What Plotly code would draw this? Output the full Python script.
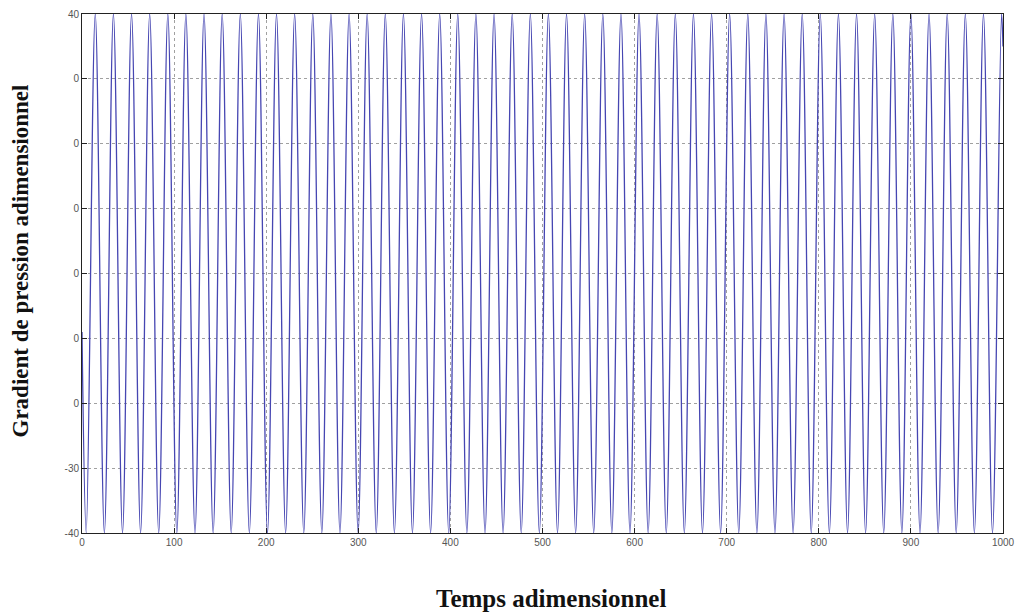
import plotly.graph_objects as go

# Times (adimensional) of troughs (-40) and peaks (+40)
trough_times = [4.6, 24.3, 44.0, 63.6, 83.3, 103.0, 122.7, 142.4, 162.0, 181.7,
                201.4, 221.1, 240.8, 260.4, 280.1, 299.8, 319.5, 339.2, 358.8, 378.5,
                398.2, 417.9, 437.6, 457.2, 476.9, 496.6, 516.3, 536.0, 555.6, 575.3,
                595.0, 614.7, 634.4, 654.0, 673.7, 693.4, 713.1, 732.8, 752.4, 772.1,
                791.8, 811.5, 831.2, 850.8, 870.5, 890.2, 909.9, 929.6, 949.2, 968.9,
                988.6]
peak_times = [14.4, 34.1, 53.8, 73.5, 93.2, 112.8, 132.5, 152.2, 171.9, 191.6,
              211.2, 230.9, 250.6, 270.3, 290.0, 309.6, 329.3, 349.0, 368.7, 388.4,
              408.0, 427.7, 447.4, 467.1, 486.8, 506.4, 526.1, 545.8, 565.5, 585.2,
              604.8, 624.5, 644.2, 663.9, 683.6, 703.2, 722.9, 742.6, 762.3, 782.0,
              801.6, 821.3, 841.0, 860.7, 880.4, 900.0, 919.7, 939.4, 959.1, 978.8,
              998.4]
trough_value = -40
peak_value = 40
start_point = (0, -9)
end_point = (1000, 35)

y_tick_vals = [40, 30, 20, 10, 0, -10, -20, -30, -40]
y_tick_text = ["40", "0", "0", "0", "0", "0", "0", "-30", "-40"]
x_tick_vals = [0, 100, 200, 300, 400, 500, 600, 700, 800, 900, 1000]
x_tick_text = [str(v) for v in x_tick_vals]

# merge extremes in time order
pts = [start_point]
pts += [(t, trough_value) for t in trough_times]
pts += [(t, peak_value) for t in peak_times]
pts.append(end_point)
pts.sort(key=lambda p: p[0])
xs = [p[0] for p in pts]
ys = [p[1] for p in pts]

fig = go.Figure()
fig.add_trace(go.Scatter(x=xs, y=ys, mode="lines",
                         line=dict(color="#4646b2", width=1.3, shape="spline", smoothing=1),
                         showlegend=False, hoverinfo="skip"))

axis_common = dict(showline=True, linecolor="#222222", linewidth=1, mirror="ticks",
                   ticks="inside", ticklen=5, tickcolor="#222222",
                   showgrid=True, gridcolor="#a0a0a0", griddash="dot", gridwidth=1,
                   zeroline=False, automargin=False,
                   tickfont=dict(family="Liberation Sans, Arial, sans-serif", size=10, color="#555555"))

fig.update_xaxes(range=[0, 1000], tickmode="array", tickvals=x_tick_vals, ticktext=x_tick_text,
                 **axis_common)
fig.update_yaxes(range=[-40, 40], tickmode="array", tickvals=y_tick_vals, ticktext=y_tick_text,
                 **axis_common)

fig.update_layout(
    width=1015, height=613,
    margin=dict(l=82, r=12, t=14, b=80),
    paper_bgcolor="white", plot_bgcolor="white",
    annotations=[
        dict(text="<b>Temps adimensionnel</b>", xref="paper", yref="paper",
             x=0.5, y=0, xshift=8, yshift=-65, xanchor="center", yanchor="middle", showarrow=False,
             font=dict(family="Liberation Serif, Times New Roman, serif", size=25, color="#111111")),
        dict(text="<b>Gradient de pression adimensionnel</b>", xref="paper", yref="paper",
             x=0, y=0.5, xshift=-62, yshift=12, xanchor="center", yanchor="middle", showarrow=False,
             textangle=-90,
             font=dict(family="Liberation Serif, Times New Roman, serif", size=23, color="#111111")),
    ],
)

fig.write_html("out.html")
